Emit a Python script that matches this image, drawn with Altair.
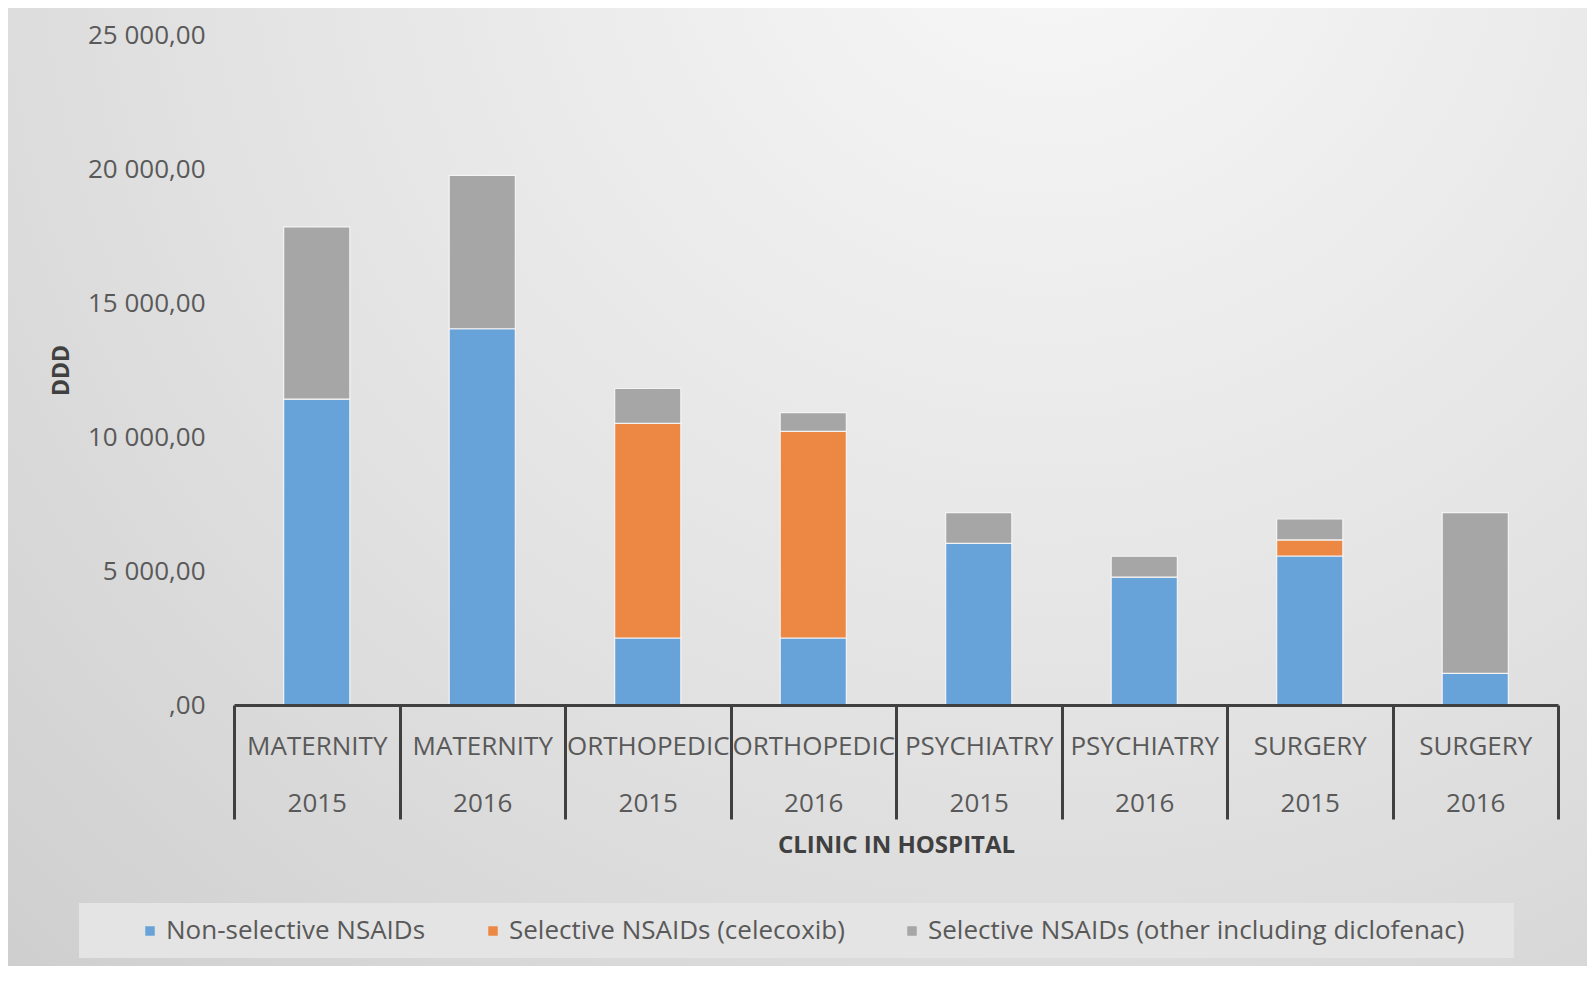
import altair as alt
import pandas as pd

# ---- data ----
clinics = ["MATERNITY", "MATERNITY", "ORTHOPEDIC", "ORTHOPEDIC",
           "PSYCHIATRY", "PSYCHIATRY", "SURGERY", "SURGERY"]
years = ["2015", "2016", "2015", "2016", "2015", "2016", "2015", "2016"]
non_selective = [11410, 14040, 2500, 2500, 6030, 4770, 5560, 1180]
celecoxib = [0, 0, 8010, 7710, 0, 0, 600, 0]
other = [6430, 5720, 1300, 700, 1150, 780, 780, 6000]

series_names = ["Non-selective NSAIDs", "Selective NSAIDs (celecoxib)",
                "Selective NSAIDs (other including diclofenac)"]
series_colors = ["#67a2d9", "#ec8744", "#a6a6a6"]
y_ticks = [0, 5000, 10000, 15000, 20000, 25000]

keys = [f"{c}|{y}" for c, y in zip(clinics, years)]
rows = []
for i, k in enumerate(keys):
    for j, (s, vals) in enumerate(zip(series_names, [non_selective, celecoxib, other])):
        rows.append({"key": k, "series": s, "ord": j, "value": vals[i]})
df = pd.DataFrame(rows)
one = pd.DataFrame({"a": [0]})

W, H = 1324, 670
PL, PT = 226, 27
TOTAL_W, TOTAL_H = 1579, 958

LABEL_FONT = "Open Sans"

bg = alt.Chart(one).mark_rect(
    fill=alt.RadialGradient(
        gradient="radial",
        x1=0.66, y1=0.12, r1=0.0,
        x2=0.66, y2=0.12, r2=1.05,
        stops=[alt.GradientStop(color="#f8f8f8", offset=0),
               alt.GradientStop(color="#e3e3e3", offset=0.5),
               alt.GradientStop(color="#cacaca", offset=1)],
    )
).encode(
    x=alt.value(-PL), x2=alt.value(TOTAL_W - PL),
    y=alt.value(-PT), y2=alt.value(TOTAL_H - PT),
)

legend_box = alt.Chart(one).mark_rect(color="#e4e4e4").encode(
    x=alt.value(79 - 234), x2=alt.value(1514 - 234),
    y=alt.value(903 - 35), y2=alt.value(958 - 35),
)

bars = alt.Chart(df).transform_filter("datum.value > 0").mark_bar(
    width=alt.RelativeBandSize(0.4),
    stroke="#f4f4f4", strokeWidth=1.2,
).encode(
    x=alt.X("key:N", sort=keys,
            scale=alt.Scale(paddingInner=0, paddingOuter=0),
            title="CLINIC IN HOSPITAL",
            axis=alt.Axis(
                zindex=1,
                labelExpr="split(datum.label, '|')",
                labelAngle=0, labelFontSize=26, labelColor="#595959",
                labelFont=LABEL_FONT, labelLineHeight=57,
                labelBaseline="middle", labelPadding=-73,
                labelOverlap=False, labelLimit=300,
                tickBand="extent", tickSize=114, tickWidth=3,
                tickColor="#404040", domainColor="#404040", domainWidth=3,
                titleX=W / 2, titleY=140, titleBaseline="middle",
                titleFontSize=24, titleFontWeight="bold",
                titleColor="#404040", titleFont=LABEL_FONT,
            )),
    y=alt.Y("value:Q", stack="zero",
            scale=alt.Scale(domain=[0, 25000], nice=False),
            title="DDD",
            axis=alt.Axis(
                zindex=1,
                values=y_ticks,
                labelExpr="datum.value == 0 ? ',00' : replace(replace(format(datum.value, ',.2f'), ',', ' '), '.', ',')",
                ticks=False, domain=False, grid=False,
                labelPadding=29, labelFontSize=26, labelColor="#595959",
                labelFont=LABEL_FONT,
                titleX=-173, titleY=H / 2, titleBaseline="middle",
                titleAngle=270, titleFontSize=23, titleFontWeight="bold",
                titleColor="#404040", titleFont=LABEL_FONT,
            )),
    color=alt.Color("series:N",
                    scale=alt.Scale(domain=series_names, range=series_colors),
                    legend=alt.Legend(
                        orient="none", legendX=-97, legendY=883,
                        direction="horizontal", title=None,
                        symbolType="square", symbolSize=90,
                        symbolStrokeWidth=0,
                        labelFontSize=26, labelColor="#595959",
                        labelFont=LABEL_FONT, labelLimit=800,
                        labelOffset=3, columnPadding=54, padding=0,
                    )),
    order=alt.Order("ord:Q"),
)

chart = alt.layer(bg, legend_box, bars).properties(
    width=W, height=H,
    autosize=alt.AutoSizeParams(type="none"),
    padding={"left": PL, "top": PT, "right": TOTAL_W - PL - W, "bottom": TOTAL_H - PT - H},
    background="#d4d4d4",
).configure_view(stroke=None)

chart.save("out.html", embed_options={"renderer": "svg", "actions": False})
